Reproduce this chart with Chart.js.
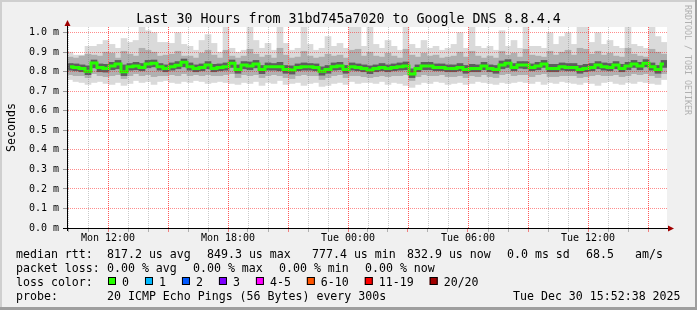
<!DOCTYPE html>
<html>
<head>
<meta charset="utf-8">
<script src="https://cdn.jsdelivr.net/npm/chart.js@4/dist/chart.umd.min.js"></script>
<style>
  html, body { margin: 0; padding: 0; background: #f0f0f0; }
  canvas { display: block; }
</style>
</head>
<body>
<canvas id="grafico" width="697" height="310"></canvas>
<script>
// rtt in microseconds, one sample every 18 min (100 samples = 30 h)
const median = [
  826,822,817,803,845,822,817,829,840,800,826,829,822,840,843,826,817,826,833,848,826,817,822,834,817,
  822,826,843,812,834,829,840,812,826,826,826,812,809,822,826,826,822,803,812,826,829,812,826,822,817,
  809,817,822,817,822,826,829,788,817,829,829,822,822,817,817,822,812,817,817,829,817,812,834,843,822,
  835,834,822,829,840,817,817,826,822,822,812,817,822,834,826,822,834,817,829,840,829,843,826,812,840
];
const darkLo = [
  808,805,800,785,820,800,798,810,815,780,808,810,805,820,825,808,800,808,815,825,808,800,805,815,800,
  805,808,822,792,815,810,820,790,808,808,805,792,788,805,808,808,805,782,792,808,810,792,808,805,800,
  790,800,805,800,805,808,810,770,800,810,810,805,805,800,800,805,792,800,800,810,800,792,815,822,805,
  818,815,805,810,822,800,800,808,805,805,792,800,805,815,808,805,815,800,810,822,810,825,808,792,822
];
const darkHi = [
  842,840,835,830,860,840,838,848,858,835,842,848,842,858,860,842,835,845,852,865,845,835,840,852,838,
  840,845,860,835,852,850,858,832,845,842,848,832,830,840,845,842,840,825,832,845,848,832,845,840,835,
  830,835,842,835,840,845,850,815,835,848,848,840,840,835,835,842,832,838,835,848,835,832,855,862,842,
  852,852,840,848,858,838,838,845,842,842,832,838,842,852,845,842,852,838,848,858,848,862,845,832,858
];
const midLo = [
  785,780,780,770,790,780,775,780,785,765,780,790,780,785,775,780,780,785,780,790,780,785,780,785,780,
  780,785,790,770,785,780,785,770,780,785,780,770,765,780,785,780,780,760,770,780,785,770,780,780,775,
  770,775,780,775,780,780,785,755,775,785,780,780,785,775,775,780,770,780,775,785,775,770,785,790,780,
  785,785,775,785,790,775,775,780,780,780,770,775,780,785,780,780,785,775,780,790,785,790,780,770,790
];
const midHi = [
  875,870,880,890,885,880,900,895,870,905,890,880,920,910,900,880,885,890,905,880,880,870,895,910,885,
  870,910,880,870,880,915,890,875,885,870,920,885,870,875,905,880,870,875,890,880,885,870,910,915,880,
  900,880,875,895,880,870,915,885,875,895,880,885,870,875,880,900,875,905,880,870,880,870,905,885,895,
  875,915,885,880,875,905,885,900,910,885,920,915,890,905,885,895,880,875,920,890,880,875,915,900,890
];
const minRtt = [
  760,750,745,735,745,750,740,735,745,730,740,755,745,750,735,750,755,745,740,750,745,755,750,740,745,
  750,745,740,735,745,740,750,730,745,740,755,735,740,745,730,740,745,725,730,740,745,735,750,740,745,
  745,740,750,735,745,740,730,720,735,745,740,750,745,735,740,745,735,740,750,745,740,735,745,740,745,
  750,745,740,750,735,745,740,750,745,740,735,745,740,730,745,750,740,735,745,740,750,745,740,735,760
];
const maxRtt = [
  900,885,885,930,930,940,960,940,920,970,950,960,1030,1010,1000,950,950,945,1000,940,930,910,960,990,945,
  900,1030,920,900,910,1030,960,920,945,910,1030,945,910,920,1030,940,910,920,980,930,945,920,1030,1030,930,
  1030,940,920,960,930,910,1030,940,920,960,920,930,910,920,940,1000,920,1030,930,920,930,910,1010,930,960,
  920,1030,930,930,920,1000,940,980,1000,940,1030,1030,950,1000,940,960,930,920,1030,940,930,920,1030,980,950
];

const xTickHours = [12, 18, 24, 30, 36];
const xTickLabels = ['Mon 12:00', 'Mon 18:00', 'Tue 00:00', 'Tue 06:00', 'Tue 12:00'];
const majorHours = [12, 15, 18, 21, 24, 27, 30, 33, 36, 39];
const yTicks = [0, 0.1, 0.2, 0.3, 0.4, 0.5, 0.6, 0.7, 0.8, 0.9, 1.0];

const titleText = 'Last 30 Hours from 31bd745a7020 to Google DNS 8.8.4.4';
const rttLegend = ['median rtt:', '817.2 us avg', '849.3 us max', '777.4 us min', '832.9 us now', '0.0 ms sd', '68.5', 'am/s'];
const lossLegend = ['packet loss:', '0.00 % avg', '0.00 % max', '0.00 % min', '0.00 % now'];
const lossLabels = ['0', '1', '2', '3', '4-5', '6-10', '11-19', '20/20'];
const lossColors = ['#26ff00', '#00b8ff', '#0059ff', '#7e00ff', '#ff00ff', '#ff5500', '#ff0000', '#a10000'];
const probeLegend = ['probe:', '20 ICMP Echo Pings (56 Bytes) every 300s', 'Tue Dec 30 15:52:38 2025'];

const MONO = '"DejaVu Sans Mono", monospace';
const MAJOR = 'rgba(255,0,0,0.45)';
const MAJOR_V = '#ff5a5a';
const MINOR = 'rgba(120,120,120,0.4)';

const toMs = a => a.map(v => v / 1000);
const band = (lo, hi) => lo.map((v, i) => [v / 1000, hi[i] / 1000]);

const smokeBar = (label, lo, hi, color, order) => ({
  label, data: band(lo, hi), xAxisID: 'xc', backgroundColor: color,
  borderWidth: 0, grouped: false, barPercentage: 1, categoryPercentage: 1, order
});

// rrdtool style dotted grid, one pixel on / one off, drawn over the smoke
const dottedGrid = {
  id: 'dottedGrid',
  afterDatasetsDraw(chart) {
    const c = chart.ctx, a = chart.chartArea, sx = chart.scales.x, sy = chart.scales.y;
    const vline = (h, col) => {
      const px = Math.round(sx.getPixelForValue(h));
      c.fillStyle = col;
      for (let y = Math.ceil(a.top); y < a.bottom; y += 2) c.fillRect(px, y, 1, 1);
    };
    c.save();
    for (let h = 10; h <= 39; h++) {
      if (!majorHours.includes(h)) vline(h, MINOR);
    }
    majorHours.forEach(h => vline(h, MAJOR_V));
    c.fillStyle = MAJOR;
    yTicks.forEach(v => {
      if (v === 0) return;
      const py = Math.floor(sy.getPixelForValue(v));
      for (let x = Math.ceil(a.left) + 1; x < a.right; x += 2) c.fillRect(x, py, 1, 1);
    });
    c.restore();
  }
};

const decor = {
  id: 'decor',
  beforeDraw(chart) {
    const c = chart.ctx, W = chart.width, H = chart.height, a = chart.chartArea;
    c.save();
    c.fillStyle = '#f0f0f0';
    c.fillRect(0, 0, W, H);
    c.fillStyle = '#cfcfcf';
    c.fillRect(0, 0, W, 2);
    c.fillRect(0, 0, 2, H);
    c.fillStyle = '#9e9e9e';
    c.fillRect(0, H - 3, W, 3);
    c.fillRect(W - 2, 0, 2, H);
    c.fillStyle = '#ffffff';
    c.fillRect(a.left, a.top, a.right - a.left, a.bottom - a.top);
    c.restore();
  },
  afterDraw(chart) {
    const c = chart.ctx, a = chart.chartArea, W = chart.width;
    c.save();
    // axes
    c.strokeStyle = '#000';
    c.lineWidth = 1;
    c.beginPath();
    c.moveTo(a.left + 0.5, a.bottom + 3);
    c.lineTo(a.left + 0.5, a.top - 4);
    c.moveTo(a.left - 4, a.bottom + 0.5);
    c.lineTo(a.right + 3, a.bottom + 0.5);
    c.stroke();
    c.fillStyle = '#a00000';
    c.beginPath();
    c.moveTo(a.left + 0.5, a.top - 7);
    c.lineTo(a.left - 2.5, a.top - 1);
    c.lineTo(a.left + 3.5, a.top - 1);
    c.closePath();
    c.fill();
    c.beginPath();
    c.moveTo(a.right + 7, a.bottom + 0.5);
    c.lineTo(a.right + 1, a.bottom - 2.5);
    c.lineTo(a.right + 1, a.bottom + 3.5);
    c.closePath();
    c.fill();

    // title
    c.fillStyle = '#000';
    c.font = '13.3px ' + MONO;
    c.textAlign = 'center';
    c.textBaseline = 'alphabetic';
    c.fillText(titleText, W / 2, 23);

    // y title
    c.font = '11.6px ' + MONO;
    c.save();
    c.translate(15, (a.top + a.bottom) / 2);
    c.rotate(-Math.PI / 2);
    c.fillText('Seconds', 0, 0);
    c.restore();

    // watermark
    c.save();
    c.fillStyle = '#b0b0b0';
    c.font = '8.3px ' + MONO;
    c.textAlign = 'left';
    c.translate(685, 5);
    c.rotate(Math.PI / 2);
    c.fillText('RRDTOOL / TOBI OETIKER', 0, 0);
    c.restore();

    // legend
    c.textAlign = 'left';
    c.fillStyle = '#000';
    c.font = '11.6px ' + MONO;
    const rttX = [16, 107, 207, 312, 407, 507, 586, 635];
    rttLegend.forEach((t, i) => c.fillText(t, rttX[i], 258));
    const lossX = [16, 107, 193, 279, 365];
    lossLegend.forEach((t, i) => c.fillText(t, lossX[i], 272));
    c.fillText('loss color:', 16, 286);
    let x = 108;
    lossLabels.forEach((t, i) => {
      c.fillStyle = lossColors[i];
      c.fillRect(x, 277, 8, 8);
      c.strokeStyle = '#000';
      c.strokeRect(x + 0.5, 277.5, 7, 7);
      c.fillStyle = '#000';
      c.fillText(t, x + 14, 286);
      x += 14 + c.measureText(t).width + 16;
    });
    const probeX = [16, 107, 513];
    probeLegend.forEach((t, i) => c.fillText(t, probeX[i], 300));
    c.restore();
  }
};

new Chart(document.getElementById('grafico'), {
  type: 'bar',
  data: {
    labels: median.map((_, i) => i),
    datasets: [
      { type: 'line', label: 'median', data: toMs(median), xAxisID: 'xc',
        borderColor: '#26ff00', borderWidth: 3, pointRadius: 0, stepped: 'middle', order: 0 },
      smokeBar('dark', darkLo, darkHi, '#5e5e5e', 1),
      smokeBar('mid', midLo, midHi, '#b0b0b0', 2),
      smokeBar('light', minRtt, maxRtt, '#dadada', 3)
    ]
  },
  options: {
    responsive: false,
    animation: false,
    devicePixelRatio: 1,
    layout: { padding: { top: 27, right: 30, left: 0, bottom: 0 } },
    plugins: { legend: { display: false }, tooltip: { enabled: false } },
    scales: {
      xc: { type: 'category', display: false, offset: true },
      x: {
        type: 'linear', position: 'bottom', min: 9.95, max: 39.95, offset: false,
        afterBuildTicks: s => {
          const t = [];
          for (let h = 10; h <= 39; h++) t.push({ value: h });
          s.ticks = t;
        },
        afterFit: s => { s.height = 82; },
        ticks: {
          autoSkip: false, maxRotation: 0, padding: 0, color: '#000',
          font: { family: MONO, size: 10 },
          callback: v => { const k = xTickHours.indexOf(v); return k < 0 ? '' : xTickLabels[k]; }
        },
        grid: {
          offset: false,
          drawOnChartArea: false,
          tickColor: c => (c.tick && majorHours.includes(c.tick.value)) ? '#f08080' : '#b0b0b0',
          tickLength: 4
        },
        border: { display: false }
      },
      y: {
        min: 0, max: 1.029,
        afterBuildTicks: s => { s.ticks = yTicks.map(v => ({ value: v })); },
        afterFit: s => { s.width = 67; },
        ticks: {
          padding: 4, color: '#000',
          font: { family: MONO, size: 10 },
          callback: v => v.toFixed(1) + ' m'
        },
        grid: { drawOnChartArea: false, tickColor: '#999', tickLength: 4 },
        border: { display: false }
      }
    }
  },
  plugins: [dottedGrid, decor]
});
</script>
</body>
</html>
